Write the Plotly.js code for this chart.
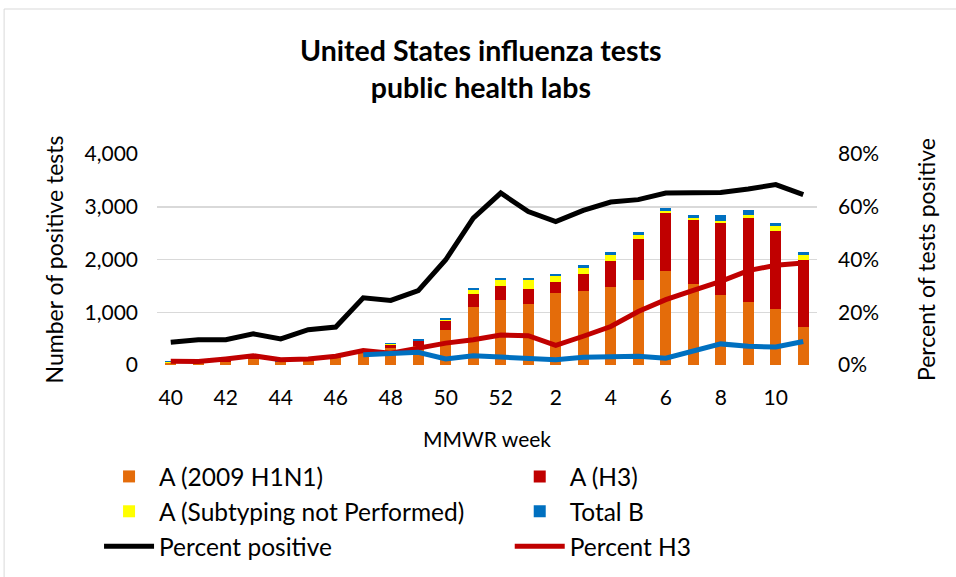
<!DOCTYPE html>
<html>
<head>
<meta charset="utf-8">
<script src="https://cdn.plot.ly/plotly-3.0.1.min.js"></script>
<style>html,body{margin:0;padding:0;background:#fff;}#chart{width:956px;height:577px;}</style>
</head>
<body>
<div id="chart"></div>
<script>
const weeks = ['40','41','42','43','44','45','46','47','48','49','50','51','52','1','2','3','4','5','6','7','8','9','10','11'];
const tickWeeks = ['40','42','44','46','48','50','52','2','4','6','8','10'];
const leftTicks = [0, 1000, 2000, 3000, 4000];
const rightTicks = [0, 20, 40, 60, 80];
const rightTickText = ['0%', '20%', '40%', '60%', '80%'];
const h1n1 =   [40, 30, 60, 110, 50, 110, 150, 230, 322, 366, 669, 1105, 1232, 1149, 1371, 1408, 1485, 1617, 1790, 1535, 1327, 1200, 1054, 720];
const h3 =     [5, 5, 10, 15, 10, 15, 20, 20, 63, 88, 164, 240, 259, 297, 209, 322, 480, 765, 1094, 1207, 1359, 1580, 1491, 1270];
const unsub =  [3, 3, 3, 5, 3, 5, 5, 5, 15, 5, 25, 82, 126, 171, 101, 114, 126, 76, 45, 38, 51, 63, 82, 88];
const totalB = [20, 10, 10, 10, 10, 25, 10, 10, 20, 25, 25, 38, 38, 25, 44, 44, 44, 57, 40, 70, 101, 95, 70, 70];
const pctPositive = [8.6, 9.6, 9.6, 11.8, 9.9, 13.4, 14.4, 25.5, 24.5, 28.2, 39.9, 55.7, 65.2, 58.2, 54.4, 58.6, 61.8, 62.7, 65.2, 65.4, 65.4, 66.7, 68.4, 64.6];
const pctH3 = [1.4, 1.3, 2.3, 3.5, 2.0, 2.3, 3.3, 5.5, 4.5, 6.4, 8.3, 9.6, 11.4, 11.1, 7.4, 10.9, 14.6, 20.3, 24.8, 28.3, 31.7, 35.8, 37.8, 38.7];
const pctB = [null, null, null, null, null, null, null, 3.9, 4.2, 4.8, 2.3, 3.5, 3.0, 2.4, 2.0, 2.9, 3.0, 3.3, 2.6, 5.2, 8.0, 7.1, 6.8, 8.9];

const FONT = 'Lato, "Open Sans", sans-serif';
const bar = (name, y, color, lg) => ({type:'bar', name, x:weeks, y, marker:{color, line:{width:0}}, legend:lg, legendgroup:name});
const line = (name, y, color, lg, show) => ({type:'scatter', mode:'lines', name, x:weeks, y, yaxis:'y2', line:{color, width:5}, legend:lg, legendgroup:name, showlegend:show});

const data = [
  bar('A (2009 H1N1)', h1n1, '#E46C0A', 'legend'),
  bar('A (H3)', h3, '#C00000', 'legend2'),
  bar('A (Subtyping not Performed)', unsub, '#FFFF00', 'legend'),
  bar('Total B', totalB, '#0070C0', 'legend2'),
  line('Percent positive', pctPositive, '#000000', 'legend', true),
  line('Percent H3', pctH3, '#C00000', 'legend2', true),
  line('Percent B', pctB, '#0070C0', 'legend', false)
];

const legBase = {orientation:'v', yanchor:'top', font:{size:24.5, family:FONT}, traceorder:'normal', itemwidth:50, tracegroupgap:9.5, bgcolor:'rgba(0,0,0,0)'};

const layout = {
  width:956, height:577,
  margin:{l:157, r:138.5, t:154, b:212, autoexpand:false},
  paper_bgcolor:'#fff', plot_bgcolor:'#fff',
  font:{family:FONT, size:20, color:'#000'},
  barmode:'stack', bargap:0.6,
  title:{text:'<b>United States influenza tests<br>public health labs</b>', font:{family:FONT, size:28.5, color:'#000'}, x:0.503, xanchor:'center', y:0.894, yanchor:'middle'},
  xaxis:{type:'category', tickmode:'array', tickvals:tickWeeks, ticktext:tickWeeks, showgrid:false, showline:false, ticks:'', tickfont:{size:21}, ticklabelstandoff:18,
         title:{text:'MMWR week', font:{size:21}, standoff:24}},
  yaxis:{range:[0,4000], tickmode:'array', tickvals:leftTicks, tickformat:',d', tickfont:{size:21}, gridcolor:'#d9d9d9', gridwidth:1.5, zeroline:false, showline:false, ticks:'', ticklabelstandoff:18,
         title:{text:'Number of positive tests', font:{size:23}, standoff:14}},
  yaxis2:{overlaying:'y', side:'right', range:[0,80], tickmode:'array', tickvals:rightTicks, ticktext:rightTickText, tickfont:{size:21}, showgrid:false, zeroline:false, showline:false, ticks:'', ticklabelstandoff:20,
          title:{text:'Percent of tests positive', font:{size:23}, standoff:40}},
  legend:Object.assign({}, legBase, {x:(99-157)/660.5, xanchor:'left', y:(365-454)/211}),
  legend2:Object.assign({}, legBase, {x:(510-157)/660.5, xanchor:'left', y:(365-454)/211}),
  showlegend:true,
  shapes:[{type:'rect', xref:'paper', yref:'paper', x0:(4-157)/660.5, x1:(960-157)/660.5, y0:(365-582)/211, y1:(365-9)/211, line:{color:'#d9d9d9', width:1}, fillcolor:'rgba(0,0,0,0)', layer:'below'}]
};

Plotly.newPlot('chart', data, layout, {displayModeBar:false, staticPlot:true});
</script>
</body>
</html>
